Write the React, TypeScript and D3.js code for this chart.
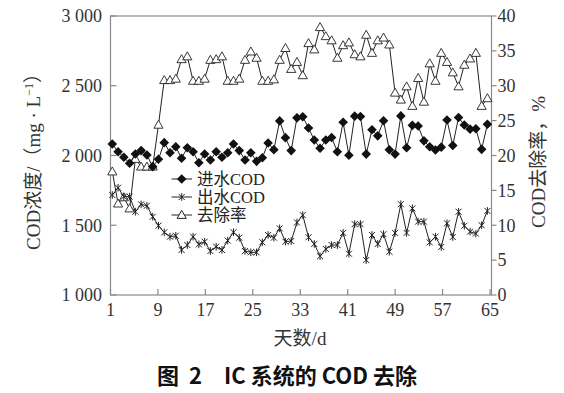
import * as d3 from 'd3';

// 进水COD, mg/L (one value per sampling, 66 points)
const influent = [
  2082, 2027, 1987, 1944, 2011, 2035, 2004, 1920, 1973, 2092,
  2020, 2063, 1980, 2056, 2027, 1948, 2011, 1968, 2027, 1987,
  2020, 2082, 2035, 1968, 2020, 1958, 1984, 2090, 2042, 2248,
  2128, 2035, 2270, 2278, 2197, 2111, 2052, 2111, 2129, 2027,
  2238, 2002, 2282, 2280, 2010, 2185, 2141, 2249, 2041, 2010,
  2284, 2056, 2216, 2211, 2105, 2063, 2039, 2060, 2254, 2072,
  2272, 2219, 2189, 2192, 2044, 2224,
];

// 出水COD, mg/L
const effluent = [
  1717, 1769, 1705, 1705, 1597, 1650, 1640, 1561, 1497, 1449,
  1418, 1425, 1323, 1358, 1418, 1363, 1382, 1315, 1346, 1323,
  1390, 1450, 1411, 1315, 1306, 1306, 1378, 1430, 1411, 1478,
  1382, 1387, 1520, 1573, 1414, 1366, 1278, 1330, 1358, 1358,
  1445, 1296, 1508, 1508, 1250, 1430, 1366, 1436, 1310, 1445,
  1651, 1445, 1621, 1526, 1526, 1377, 1418, 1344, 1514, 1416,
  1597, 1496, 1454, 1440, 1500, 1603,
];

// 去除率, %
const removal = [
  17.7, 13.1, 14.0, 12.4, 19.5, 18.4, 18.4, 18.4, 24.4, 30.8,
  30.8, 31.0, 33.8, 34.2, 30.7, 30.7, 31.0, 33.7, 33.8, 34.2,
  30.7, 30.7, 31.0, 33.7, 34.9, 34.0, 30.7, 30.7, 30.9, 33.7,
  35.4, 32.4, 33.4, 31.5, 36.1, 35.2, 38.4, 37.1, 36.5, 34.0,
  35.8, 36.2, 34.5, 34.2, 37.3, 34.7, 36.5, 36.9, 35.9, 29.0,
  28.0, 29.9, 27.1, 31.1, 27.7, 33.2, 30.7, 34.7, 33.4, 31.9,
  29.9, 33.0, 33.9, 34.7, 27.1, 28.2,
];

const xTicks = [1, 9, 17, 25, 33, 41, 49, 57, 65];
const leftTicks = [1000, 1500, 2000, 2500, 3000];
const rightTicks = [0, 5, 10, 15, 20, 25, 30, 35, 40];
const legendLabels = ['进水COD', '出水COD', '去除率'];

const serif = '"Liberation Serif", "Times New Roman", "Noto Sans CJK SC", serif';
const sans = '"Noto Sans CJK SC", "Liberation Sans", sans-serif';

const diamond = 'M0,-4.8L4.8,0L0,4.8L-4.8,0Z';
const triangle = 'M0,-4.6L4.6,3.4L-4.6,3.4Z';
const asterisk = 'M-3,-3L3,3M-3,3L3,-3M0,-3.8L0,3.8';

export default function App() {
  const width = 564;
  const height = 393;
  const box = { left: 110.5, right: 491.5, top: 16, bottom: 295 };

  // axis scale (day labels) and data scale (sample index)
  const xAxis = d3.scaleLinear().domain([1, 65]).range([110.5, 490]);
  const xData = d3.scaleLinear().domain([0, influent.length - 1]).range([112.3, 487.4]);
  const yLeft = d3.scaleLinear().domain([1000, 3000]).range([box.bottom, box.top]);
  const yRight = d3.scaleLinear().domain([0, 40]).range([box.bottom, box.top]);

  const lineLeft = d3.line<number>().x((_, i) => xData(i)).y((d) => yLeft(d));
  const lineRight = d3.line<number>().x((_, i) => xData(i)).y((d) => yRight(d));

  const fmt = (v: number) => d3.format(',')(v).replace(',', ' ');
  const markers = [diamond, asterisk, triangle];

  return (
    <svg
      width={width}
      height={height}
      style={{ position: 'absolute', left: 0, top: 0, background: '#fff' }}
    >
      {/* frame */}
      <rect
        x={box.left}
        y={box.top}
        width={box.right - box.left}
        height={box.bottom - box.top}
        fill="none"
        stroke="#8a8a8a"
        strokeWidth={1.2}
      />

      {/* left ticks (inward) */}
      {leftTicks.map((t) => (
        <g key={'l' + t}>
          <line x1={box.left} x2={box.left + 6} y1={yLeft(t)} y2={yLeft(t)} stroke="#8a8a8a" strokeWidth={1.2} />
          <text x={102} y={yLeft(t)} dy="0.35em" textAnchor="end" fontSize={18} fontFamily={serif} fill="#333" style={{ whiteSpace: 'pre' }}>
            {fmt(t)}
          </text>
        </g>
      ))}

      {/* right ticks (outward) */}
      {rightTicks.map((t) => (
        <g key={'r' + t}>
          <line x1={box.right} x2={box.right + 5} y1={yRight(t)} y2={yRight(t)} stroke="#8a8a8a" strokeWidth={1.2} />
          <text x={497.5} y={yRight(t)} dy="0.35em" textAnchor="start" fontSize={18} fontFamily={serif} fill="#333">
            {t}
          </text>
        </g>
      ))}

      {/* bottom ticks (inward) */}
      {xTicks.map((t) => (
        <g key={'x' + t}>
          <line x1={xAxis(t)} x2={xAxis(t)} y1={box.bottom} y2={box.bottom - 6} stroke="#8a8a8a" strokeWidth={1.2} />
          <text x={xAxis(t)} y={315.5} textAnchor="middle" fontSize={18} fontFamily={serif} fill="#333">
            {t}
          </text>
        </g>
      ))}

      {/* removal rate */}
      <path d={lineRight(removal) || ''} fill="none" stroke="#222" strokeWidth={1} />
      {removal.map((d, i) => (
        <path key={'t' + i} d={triangle} transform={`translate(${xData(i)},${yRight(d)})`} fill="#fff" stroke="#222" strokeWidth={0.9} />
      ))}

      {/* effluent */}
      <path d={lineLeft(effluent) || ''} fill="none" stroke="#222" strokeWidth={1} />
      {effluent.map((d, i) => (
        <path key={'e' + i} d={asterisk} transform={`translate(${xData(i)},${yLeft(d)})`} fill="none" stroke="#222" strokeWidth={1} />
      ))}

      {/* influent */}
      <path d={lineLeft(influent) || ''} fill="none" stroke="#222" strokeWidth={1} />
      {influent.map((d, i) => (
        <path key={'i' + i} d={diamond} transform={`translate(${xData(i)},${yLeft(d)})`} fill="#111" />
      ))}

      {/* legend */}
      {legendLabels.map((label, i) => {
        const y = 179 + i * 18;
        const m = markers[i];
        return (
          <g key={label}>
            <line x1={171.5} x2={192} y1={y} y2={y} stroke="#222" strokeWidth={1} />
            <path
              d={m}
              transform={`translate(181.7,${y})`}
              fill={m === diamond ? '#111' : m === triangle ? '#fff' : 'none'}
              stroke={m === diamond ? 'none' : '#222'}
              strokeWidth={1}
            />
            <text x={197} y={y} dy="0.36em" fontSize={16.5} fontFamily={serif} fill="#222">
              {label}
            </text>
          </g>
        );
      })}

      {/* axis titles */}
      <text
        transform="translate(40,157) rotate(-90)"
        textAnchor="middle"
        fontSize={19}
        fontFamily={serif}
        fill="#333"
        style={{ whiteSpace: 'pre' }}
      >
        COD浓度/（mg · L<tspan dy={-7} fontSize={12}>−1</tspan>
        <tspan dy={7}>）</tspan>
      </text>
      <text
        transform="translate(545,162) rotate(-90)"
        textAnchor="middle"
        fontSize={19}
        fontFamily={serif}
        fill="#333"
      >
        COD去除率，%
      </text>
      <text x={300} y={345} textAnchor="middle" fontSize={19} fontFamily={serif} fill="#333">
        天数/d
      </text>

      {/* caption */}
      <text
        x={287}
        y={384}
        textAnchor="middle"
        fontSize={22}
        fontWeight="bold"
        fontFamily={sans}
        fill="#111"
        style={{ whiteSpace: 'pre' }}
      >
        {'图  2\u3000IC 系统的 COD 去除'}
      </text>
    </svg>
  );
}
